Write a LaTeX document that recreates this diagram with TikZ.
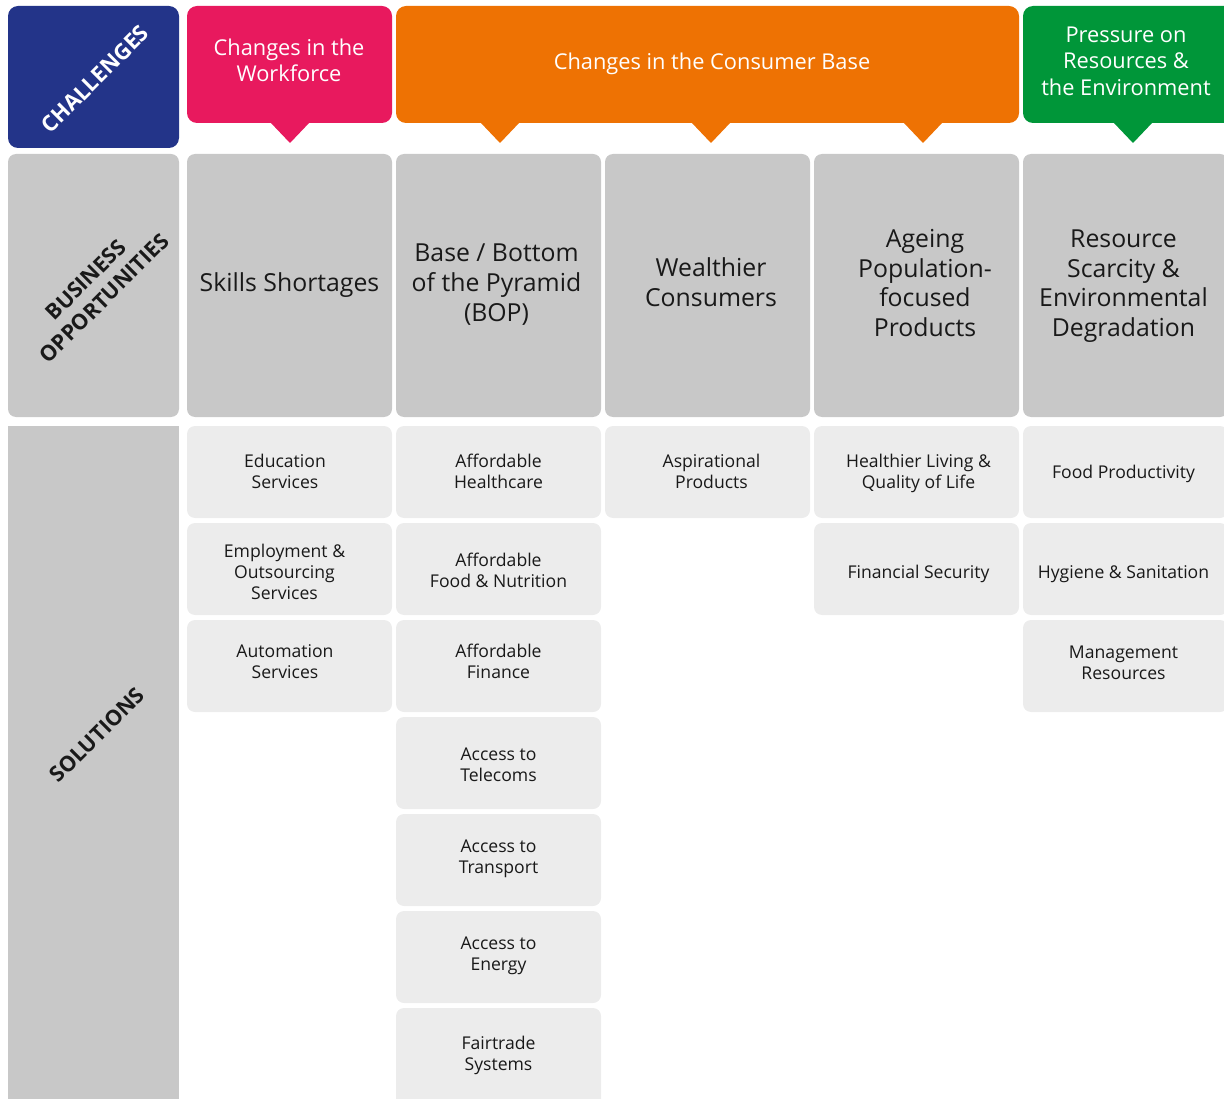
\documentclass[tikz,border=0pt]{standalone}
\usepackage{fontspec}
\setmainfont{Open Sans}
\definecolor{navy}{RGB}{35,52,137}
\definecolor{pinkc}{RGB}{232,25,94}
\definecolor{orangec}{RGB}{238,114,3}
\definecolor{greenc}{RGB}{0,150,57}
\definecolor{darkgray}{RGB}{200,200,200}
\definecolor{lightgray}{RGB}{236,236,236}
\definecolor{txt}{RGB}{25,25,25}
\begin{document}
\begin{tikzpicture}[x=1pt,y=-1pt,
  hdr/.style={rounded corners=10pt, inner sep=0pt, outer sep=0pt, minimum height=117pt},
  hdrtxt/.style={text=white, align=center, inner sep=0pt, font=\fontsize{21.8}{26.5}\selectfont},
  opp/.style={fill=darkgray, rounded corners=8pt, inner sep=0pt, outer sep=0pt, minimum width=205pt,
    minimum height=263pt},
  opptxt/.style={align=center, text=txt, inner sep=0pt, font=\fontsize{24.8}{29.7}\selectfont},
  sol/.style={fill=lightgray, rounded corners=8pt, inner sep=0pt, outer sep=0pt, minimum width=205pt,
    minimum height=92pt},
  soltxt/.style={align=center, text=txt, inner sep=0pt, font=\fontsize{17.6}{21}\selectfont},
  side/.style={font=\bfseries\fontsize{21.5}{26}\selectfont, align=center, rotate=45, inner sep=0pt}
]
\newcommand\solcell[6]{\node[sol] (#1) at (#2,#3) {};
  \node[soltxt] (#1t) at ([xshift=#4pt,yshift=#5pt]#1.center) {#6};}
\useasboundingbox (0,0) rectangle (1224,1099);
% header row
\node[hdr, fill=navy, minimum width=171pt, minimum height=142pt] (chal) at (93.5,77) {};
\node[side, text=white, font=\bfseries\fontsize{22}{26}\selectfont] (chaltxt) at (95,79) {CHALLENGES};
\node[hdr, fill=pinkc, minimum width=205pt] (work) at (289.5,64.5) {};
\node[hdrtxt] (worktxt) at (289,60.5) {Changes in the\\Workforce};
\node[hdr, fill=orangec, minimum width=623pt] (cons) at (707.5,64.5) {};
\node[hdrtxt] (constxt) at (712,64) {Changes in the Consumer Base};
\node[hdr, fill=greenc, minimum width=215pt] (env) at (1130.5,64.5) {};
\node[hdrtxt] (envtxt) at (1126,61) {Pressure on\\Resources \&\\the Environment};
% notches
\fill[pinkc] (270,122) -- (310,122) -- (290,143) -- cycle;
\fill[orangec] (480,122) -- (520,122) -- (500,143) -- cycle;
\fill[orangec] (691,122) -- (731,122) -- (711,143) -- cycle;
\fill[orangec] (903,122) -- (943,122) -- (923,143) -- cycle;
\fill[greenc] (1113,122) -- (1153,122) -- (1133,143) -- cycle;
% business opportunities row
\node[opp, minimum width=171pt] (bo) at (93.5,285.5) {};
\node[side, text=txt] (botxt) at (95,289) {BUSINESS\\OPPORTUNITIES};
\node[opp] (skills) at (289.5,285.5) {};
\node[opptxt] (skillstxt) at (289.5,285) {Skills Shortages};
\node[opp] (bop) at (498.5,285.5) {};
\node[opptxt] (boptxt) at (496.5,284.5) {Base / Bottom\\of the Pyramid\\(BOP)};
\node[opp] (wealth) at (707.5,285.5) {};
\node[opptxt] (wealthtxt) at (711,282) {Wealthier\\Consumers};
\node[opp] (ageing) at (916.5,285.5) {};
\node[opptxt] (ageingtxt) at (925,283) {Ageing\\Population-\\focused\\Products};
\node[opp] (scar) at (1125.5,285.5) {};
\node[opptxt] (scartxt) at (1123.5,286) {Resource\\Scarcity \&\\Environmental\\Degradation};
% solutions
\fill[darkgray] (8,426) rectangle (179,1110);
\node[side, text=txt] (soltxt) at (97,735) {SOLUTIONS};
% column 1
\solcell{s11}{289.5}{472}{-4.5}{1}{Education\\Services}
\solcell{s12}{289.5}{569}{-5}{-3}{Employment \&\\Outsourcing\\Services}
\solcell{s13}{289.5}{666}{-4.5}{4}{Automation\\Services}
% column 2
\solcell{s21}{498.5}{472}{0}{1}{Affordable\\Healthcare}
\solcell{s22}{498.5}{569}{0}{-1}{Affordable\\Food \& Nutrition}
\solcell{s23}{498.5}{666}{0}{5}{Affordable\\Finance}
\solcell{s24}{498.5}{763}{0}{-1.5}{Access to\\Telecoms}
\solcell{s25}{498.5}{860}{0}{1.5}{Access to\\Transport}
\solcell{s26}{498.5}{957}{0}{1.5}{Access to\\Energy}
\node[sol, minimum height=110pt] (s27) at (498.5,1063) {};
\node[soltxt] (s27t) at (498.5,1055.5) {Fairtrade\\Systems};
% column 3
\solcell{s31}{707.5}{472}{4}{1}{Aspirational\\Products}
% column 4
\solcell{s41}{916.5}{472}{2}{-1}{Healthier Living \&\\Quality of Life}
\solcell{s42}{916.5}{569}{2}{-5}{Financial Security}
% column 5
\solcell{s51}{1125.5}{472}{-2}{-2}{Food Productivity}
\solcell{s52}{1125.5}{569}{-2}{-5}{Hygiene \& Sanitation}
\solcell{s53}{1125.5}{666}{-2}{3}{Management\\Resources}
\end{tikzpicture}
\end{document}
